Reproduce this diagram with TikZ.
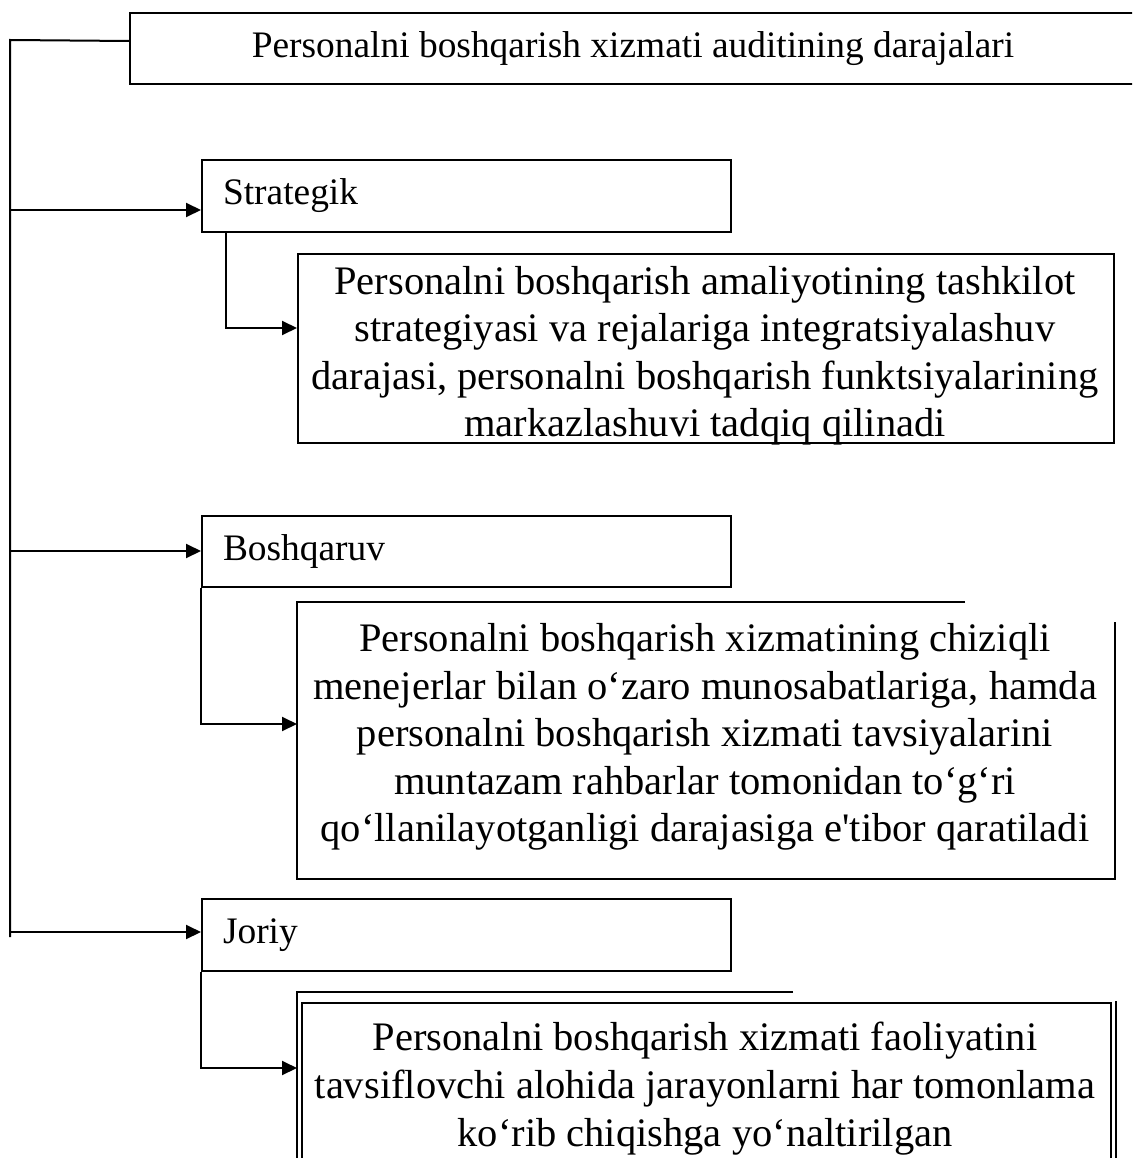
\documentclass[tikz,border=0pt]{standalone}
\usepackage{fontspec}
\setmainfont{Liberation Serif}[Ligatures=TeXOff]
\usetikzlibrary{arrows.meta}

\begin{document}
\begin{tikzpicture}[x=1pt, y=-1pt, line width=2pt,
  txt/.style={font=\fontsize{37.4}{47}\selectfont},
  bigtxt/.style={font=\fontsize{40.5}{47.5}\selectfont, inner sep=0pt, align=center},
  frame/.style={txt, draw, inner sep=0pt, anchor=north west},
  levelbox/.style={txt, draw, anchor=north west, text width=487pt,
    inner xsep=21pt, inner ysep=0pt, align=left},
  panel/.style={inner sep=0pt, anchor=north west},
  arr/.style={-{Triangle[length=15pt, width=14pt]}},
  thin/.style={line width=1.2pt}]
\useasboundingbox (0,0) rectangle (1132,1158);
\clip (0,0) rectangle (1132,1158);

% heading
\node[frame, minimum width=1006pt, minimum height=71pt] (title) at (129,12)
  {Personalni boshqarish xizmati auditining darajalari};

% three levels
\node[levelbox, minimum height=72pt] (strat) at (201,159) {Strategik};
\node[levelbox, minimum height=71pt] (boshq) at (201,515) {Boshqaruv};
\node[levelbox, minimum height=72pt] (joriy) at (201,898) {Joriy};

% description panels
\node[panel, draw, minimum width=816pt, minimum height=189pt] (d1) at (297,253) {};
\node[panel, minimum width=816pt, minimum height=275pt] (d2) at (297,602) {};
\node[panel, minimum width=817pt, minimum height=200pt] (d3) at (297,992) {};

% description texts
\node[bigtxt] (d1t) at (705,356)
  {Personalni boshqarish amaliyotining tashkilot\\
   strategiyasi va rejalariga integratsiyalashuv\\
   darajasi, personalni boshqarish funktsiyalarining\\
   markazlashuvi tadqiq qilinadi};
\node[bigtxt] (d2t) at (705,737)
  {Personalni boshqarish xizmatining chiziqli\\
   menejerlar bilan o‘zaro munosabatlariga, hamda\\
   personalni boshqarish xizmati tavsiyalarini\\
   muntazam rahbarlar tomonidan to‘g‘ri\\
   qo‘llanilayotganligi darajasiga e'tibor qaratiladi};
\node[bigtxt, font=\fontsize{40.5}{48}\selectfont] (d3t) at (705,1089)
  {Personalni boshqarish xizmati faoliyatini\\
   tavsiflovchi alohida jarayonlarni har tomonlama\\
   ko‘rib chiqishga yo‘naltirilgan};

% open frame of the second panel
\draw ([xshift=668pt]d2.north west) -- (d2.north west) -- (d2.south west)
  -- (d2.south east) -- ([yshift=-20pt]d2.north east);

% double frame of the third panel
\draw[thin] ([xshift=496pt]d3.north west) -- (d3.north west) -- (d3.south west);
\draw[thin] ([yshift=-9pt]d3.north east) -- (d3.south east);
\draw[thin] ([xshift=5pt]d3.south west) -- ([xshift=5pt, yshift=-11pt]d3.north west)
  -- ([xshift=-5pt, yshift=-11pt]d3.north east) -- ([xshift=-5pt]d3.south east);

% trunk on the left
\coordinate (ttop) at (10,40);
\coordinate (tbot) at (10,937);
\coordinate (s1) at (10,210);
\coordinate (s2) at (10,551);
\coordinate (s3) at (10,932);
\draw ([yshift=7.5pt]title.west) -- (ttop) -- (tbot);
\draw[arr] (s1) -- (s1 -| strat.west);
\draw[arr] (s2) -- (s2 -| boshq.west);
\draw[arr] (s3) -- (s3 -| joriy.west);

% links from each level to its panel
\draw[arr] ([xshift=25pt]strat.south west) |- ([yshift=20.5pt]d1.west);
\draw[arr] (boshq.south west) |- ([yshift=16.5pt]d2.west);
\draw[arr] (joriy.south west) |- (297,1068);
\end{tikzpicture}
\end{document}
